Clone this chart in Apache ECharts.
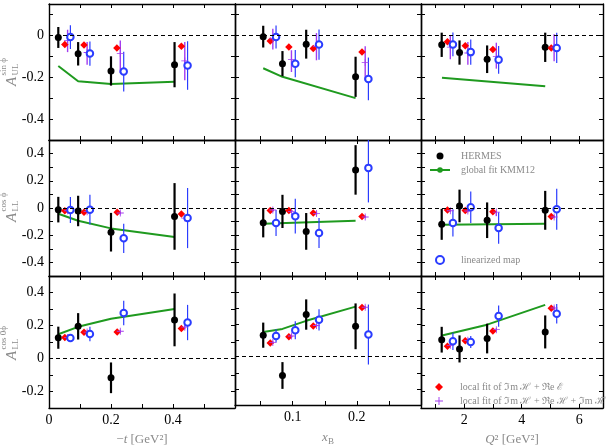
<!DOCTYPE html>
<html>
<head>
<meta charset="utf-8">
<script src="https://cdn.jsdelivr.net/npm/echarts@6/dist/echarts.min.js"></script>
<style>
html,body{margin:0;padding:0;background:#fff;}
#main{width:610px;height:447px;}
</style>
</head>
<body>
<div id="main"></div>
<script>
// 坐标轴范围与刻度
var xMin = [0, 0.01, 0.5];
var xMax = [0.6, 0.3, 6.83];
var xTicks = [[0.1, 0.2, 0.3, 0.4, 0.5], [0.05, 0.1, 0.15, 0.2, 0.25], [1, 2, 3, 4, 5, 6]];
var xLabels = [[0, 0.2, 0.4], [0.1, 0.2], [2, 4, 6]];
var yMin = [-0.5, -0.5, -0.3];
var yMax = [0.15, 0.5, 0.5];
var yTicks = [[-0.4, -0.3, -0.2, -0.1, 0, 0.1],
              [-0.4, -0.3, -0.2, -0.1, 0, 0.1, 0.2, 0.3, 0.4],
              [-0.2, -0.1, 0, 0.1, 0.2, 0.3, 0.4]];
var yLabels = [[0, -0.2, -0.4], [0.4, 0.2, 0, -0.2, -0.4], [0.4, 0.2, 0, -0.2]];

// HERMES [x, y, err]
var hermes11 = [[0.030, -0.01, 0.05], [0.094, -0.088, 0.056], [0.200, -0.17, 0.07], [0.405, -0.14, 0.108]];
var hermes12 = [[0.054, -0.006, 0.052], [0.084, -0.135, 0.06], [0.121, -0.042, 0.069], [0.198, -0.198, 0.096]];
var hermes13 = [[1.22, -0.045, 0.058], [1.84, -0.082, 0.058], [2.8, -0.114, 0.066], [4.82, -0.057, 0.07]];
var hermes21 = [[0.030, -0.012, 0.094], [0.094, -0.022, 0.112], [0.200, -0.178, 0.142], [0.405, -0.062, 0.245]];
var hermes22 = [[0.054, -0.108, 0.108], [0.084, -0.025, 0.122], [0.121, -0.172, 0.135], [0.198, 0.28, 0.182]];
var hermes23 = [[1.22, -0.12, 0.114], [1.84, 0.015, 0.12], [2.8, -0.09, 0.131], [4.82, -0.017, 0.143]];
var hermes31 = [[0.030, 0.126, 0.067], [0.094, 0.195, 0.08], [0.200, -0.117, 0.093], [0.405, 0.234, 0.16]];
var hermes32 = [[0.054, 0.133, 0.078], [0.084, -0.117, 0.083], [0.121, 0.261, 0.094], [0.198, 0.188, 0.142]];
var hermes33 = [[1.22, 0.114, 0.078], [1.84, 0.058, 0.082], [2.8, 0.121, 0.09], [4.82, 0.161, 0.1]];

// local fit ImH + ReE [x, y]
var red11 = [[0.051, -0.044], [0.113, -0.046], [0.219, -0.06], [0.427, -0.052]];
var red12 = [[0.065, -0.027], [0.094, -0.056], [0.132, -0.063], [0.208, -0.079]];
var red13 = [[1.42, -0.03], [2.04, -0.049], [3.0, -0.067], [5.03, -0.06]];
var red21 = [[0.051, -0.02], [0.113, -0.032], [0.22, -0.032], [0.427, -0.044]];
var red22 = [[0.065, -0.018], [0.094, -0.018], [0.132, -0.037], [0.208, -0.062]];
var red23 = [[1.42, -0.015], [2.04, -0.018], [3.0, -0.027], [5.03, -0.062]];
var red31 = [[0.051, 0.128], [0.113, 0.159], [0.22, 0.161], [0.427, 0.182]];
var red32 = [[0.065, 0.084], [0.094, 0.124], [0.132, 0.19], [0.208, 0.304]];
var red33 = [[1.42, 0.075], [2.04, 0.108], [3.0, 0.167], [5.03, 0.304]];

// local fit ImH + ReH + ImHt [x, y, errDown, errUp]
var purple11 = [[0.060, -0.025, 0.055, 0.052], [0.123, -0.082, 0.058, 0.05], [0.230, -0.087, 0.093, 0.063], [0.438, -0.122, 0.092, 0.09]];
var purple12 = [[0.069, -0.016, 0.052, 0.048], [0.098, -0.116, 0.059, 0.045], [0.137, -0.052, 0.067, 0.063], [0.213, -0.13, 0.084, 0.078]];
var purple13 = [[1.52, -0.056, 0.058, 0.056], [2.13, -0.084, 0.056, 0.052], [3.12, -0.1, 0.059, 0.065], [5.13, -0.056, 0.068, 0.061]];
var purple21 = [[0.060, -0.02, 0.01, 0.01], [0.123, -0.027, 0.01, 0.01], [0.23, -0.037, 0.01, 0.01], [0.438, -0.074, 0.012, 0.012]];
var purple22 = [[0.069, -0.015, 0.01, 0.01], [0.098, -0.025, 0.012, 0.012], [0.137, -0.04, 0.015, 0.015], [0.213, -0.066, 0.01, 0.01]];
var purple23 = [[1.52, -0.02, 0.01, 0.01], [2.13, -0.022, 0.01, 0.01], [3.12, -0.03, 0.03, 0.01], [5.13, -0.066, 0.01, 0.01]];
var purple31 = [[0.060, 0.128, 0.01, 0.01], [0.123, 0.16, 0.01, 0.01], [0.23, 0.165, 0.01, 0.01], [0.438, 0.19, 0.012, 0.012]];
var purple32 = [[0.069, 0.088, 0.01, 0.01], [0.098, 0.128, 0.01, 0.01], [0.137, 0.193, 0.01, 0.01], [0.213, 0.306, 0.01, 0.01]];
var purple33 = [[1.52, 0.08, 0.01, 0.01], [2.13, 0.11, 0.01, 0.01], [3.12, 0.175, 0.01, 0.01], [5.13, 0.306, 0.01, 0.01]];

// linearized map [x, y, err]
var blue11 = [[0.069, -0.008, 0.057], [0.132, -0.087, 0.058], [0.241, -0.173, 0.095], [0.447, -0.144, 0.116]];
var blue12 = [[0.074, -0.008, 0.055], [0.104, -0.135, 0.065], [0.141, -0.044, 0.072], [0.218, -0.208, 0.102]];
var blue13 = [[1.61, -0.043, 0.057], [2.23, -0.08, 0.06], [3.2, -0.117, 0.066], [5.22, -0.06, 0.072]];
var blue21 = [[0.069, -0.015, 0.096], [0.132, -0.012, 0.11], [0.241, -0.223, 0.107], [0.447, -0.074, 0.221]];
var blue22 = [[0.074, -0.11, 0.096], [0.104, -0.06, 0.128], [0.141, -0.184, 0.11], [0.218, 0.295, 0.254]];
var blue23 = [[1.61, -0.11, 0.1], [2.23, 0.006, 0.116], [3.2, -0.147, 0.116], [5.22, -0.009, 0.151]];
var blue31 = [[0.069, 0.124, 0.022], [0.132, 0.149, 0.044], [0.241, 0.276, 0.074], [0.447, 0.218, 0.107]];
var blue32 = [[0.074, 0.128, 0.041], [0.104, 0.163, 0.056], [0.141, 0.228, 0.066], [0.218, 0.137, 0.186]];
var blue33 = [[1.61, 0.104, 0.052], [2.23, 0.1, 0.037], [3.2, 0.257, 0.064], [5.22, 0.271, 0.059]];

// global fit KMM12
var green11 = [[0.030, -0.146], [0.094, -0.219], [0.200, -0.232], [0.405, -0.222]];
var green12 = [[0.054, -0.157], [0.084, -0.198], [0.198, -0.3]];
var green13 = [[1.23, -0.203], [4.82, -0.243]];
var green21 = [[0.030, -0.042], [0.094, -0.094], [0.2, -0.15], [0.405, -0.214]];
var green22 = [[0.054, -0.116], [0.198, -0.094]];
var green23 = [[1.23, -0.123], [4.82, -0.116]];
var green31 = [[0.030, 0.147], [0.094, 0.192], [0.2, 0.241], [0.405, 0.3]];
var green32 = [[0.054, 0.153], [0.084, 0.172], [0.121, 0.222], [0.198, 0.31]];
var green33 = [[1.23, 0.139], [2.8, 0.205], [4.82, 0.325]];

var panels = [
    [hermes11, red11, purple11, blue11, green11],
    [hermes12, red12, purple12, blue12, green12],
    [hermes13, red13, purple13, blue13, green13],
    [hermes21, red21, purple21, blue21, green21],
    [hermes22, red22, purple22, blue22, green22],
    [hermes23, red23, purple23, blue23, green23],
    [hermes31, red31, purple31, blue31, green31],
    [hermes32, red32, purple32, blue32, green32],
    [hermes33, red33, purple33, blue33, green33]
];

var NAME_H = 'HERMES';
var NAME_G = 'global fit KMM12';
var NAME_B = 'linearized map';
var NAME_R = 'local fit of ℑm ℋ + ℜe ℰ';
var NAME_P = 'local fit of ℑm ℋ + ℜe ℋ + ℑm ℋ̃';

var colLeft = [49, 235, 421];
var colWidth = [186, 186, 182];
var rowTop = [4, 140, 276];
var rowHeight = [136, 136, 137];

var FONT = 'Liberation Serif';
var GREY = '#8a8a8a';
var PLUS = 'path://M4.4,0 L5.6,0 L5.6,4.4 L10,4.4 L10,5.6 L5.6,5.6 L5.6,10 L4.4,10 L4.4,5.6 L0,5.6 L0,4.4 L4.4,4.4 Z';

function fmt(v) {
    return String(+v.toFixed(2));
}

function errRender(color, width) {
    return function (params, api) {
        var x = api.value(0), y = api.value(1);
        var p1 = api.coord([x, y - api.value(2)]);
        var p2 = api.coord([x, y + api.value(3)]);
        return {
            type: 'line',
            shape: {x1: p1[0], y1: p1[1], x2: p2[0], y2: p2[1]},
            style: {stroke: color, lineWidth: width}
        };
    };
}

function symErr(list) {
    return list.map(function (d) { return [d[0], d[1], d[2], d[2]]; });
}

var grids = [], xAxes = [], yAxes = [], series = [];

for (var r = 0; r < 3; r++) {
    for (var c = 0; c < 3; c++) {
        var i = r * 3 + c;
        grids.push({left: colLeft[c], top: rowTop[r], width: colWidth[c], height: rowHeight[r], containLabel: false});

        var lineCfg = {show: true, onZero: false, lineStyle: {color: '#000', width: 1.4}};
        var xNames = ['{o|−}{i|t}{o| [GeV²]}', '{i|x}{b|B}', '{i|Q}{o|² [GeV²]}'];
        xAxes.push({
            type: 'value', gridIndex: i, position: 'bottom', min: xMin[c], max: xMax[c],
            axisLine: lineCfg,
            axisTick: {show: true, inside: true, length: 4, customValues: xTicks[c], lineStyle: {color: '#000', width: 1}},
            axisLabel: {show: r === 2, customValues: xLabels[c], formatter: fmt, fontFamily: FONT, fontSize: 14, color: '#000', margin: 5},
            splitLine: {show: false},
            name: r === 2 ? xNames[c] : '',
            nameLocation: 'middle',
            nameGap: 25,
            nameTextStyle: {
                rich: {
                    o: {fontFamily: FONT, fontSize: 13, color: GREY},
                    i: {fontFamily: FONT, fontSize: 13, fontStyle: 'italic', color: GREY},
                    b: {fontFamily: FONT, fontSize: 9, color: GREY, padding: [7, 0, 0, 0]}
                }
            }
        });
        xAxes.push({
            type: 'value', gridIndex: i, position: 'top', min: xMin[c], max: xMax[c],
            axisLine: lineCfg,
            axisTick: {show: true, inside: true, length: 4, customValues: xTicks[c], lineStyle: {color: '#000', width: 1}},
            axisLabel: {show: false},
            splitLine: {show: false}
        });
        yAxes.push({
            type: 'value', gridIndex: i, position: 'left', min: yMin[r], max: yMax[r],
            axisLine: lineCfg,
            axisTick: {show: true, inside: true, length: 4, customValues: yTicks[r], lineStyle: {color: '#000', width: 1}},
            axisLabel: {show: c === 0, customValues: yLabels[r], formatter: fmt, fontFamily: FONT, fontSize: 14, color: '#000', margin: 5},
            splitLine: {show: false}
        });
        yAxes.push({
            type: 'value', gridIndex: i, position: 'right', min: yMin[r], max: yMax[r],
            axisLine: lineCfg,
            axisTick: {show: true, inside: true, length: 4, customValues: yTicks[r], lineStyle: {color: '#000', width: 1}},
            axisLabel: {show: false},
            splitLine: {show: false}
        });

        var p = panels[i];
        var ax = {xAxisIndex: 2 * i, yAxisIndex: 2 * i};

        // global fit + 0 dashed line
        series.push(Object.assign({
            name: NAME_G, type: 'line', data: p[4], showSymbol: false, symbol: 'none',
            lineStyle: {color: '#1f9a1f', width: 2}, itemStyle: {color: '#1f9a1f'},
            z: 2,
            markLine: {
                silent: true, symbol: 'none', label: {show: false},
                lineStyle: {color: '#000', width: 1, type: [4, 3]},
                data: [{yAxis: 0}]
            }
        }, ax));
        // error bars
        series.push(Object.assign({name: 'hermesErr', type: 'custom', clip: true, renderItem: errRender('#000', 2.2), data: symErr(p[0]), z: 3}, ax));
        series.push(Object.assign({name: 'purpleErr', type: 'custom', clip: true, renderItem: errRender('#a33cf0', 1.4), data: p[2], z: 3}, ax));
        series.push(Object.assign({name: 'blueErr', type: 'custom', clip: true, renderItem: errRender('#2a3cff', 1.2), data: symErr(p[3]), z: 3}, ax));
        // markers
        series.push(Object.assign({name: NAME_H, type: 'scatter', symbol: 'circle', symbolSize: 7, itemStyle: {color: '#000', opacity: 1}, data: p[0].map(function (d) { return [d[0], d[1]]; }), z: 4}, ax));
        series.push(Object.assign({name: NAME_R, type: 'scatter', symbol: 'diamond', symbolSize: 7.5, itemStyle: {color: '#ff0000', opacity: 1}, data: p[1], z: 4}, ax));
        series.push(Object.assign({name: NAME_P, type: 'scatter', symbol: PLUS, symbolSize: 7, itemStyle: {color: '#a33cf0', opacity: 1}, data: p[2].map(function (d) { return [d[0], d[1]]; }), z: 4}, ax));
        series.push(Object.assign({name: NAME_B, type: 'scatter', symbol: 'emptyCircle', symbolSize: 6.5, itemStyle: {color: '#2a3cff', borderColor: '#2a3cff', borderWidth: 1.1, opacity: 1}, data: p[3].map(function (d) { return [d[0], d[1]]; }), z: 4}, ax));
    }
}

function makeLegend(left, top, w, h, gap, pad, names) {
    return {
        show: true, orient: 'vertical', left: left, top: top, itemWidth: w, itemHeight: h, itemGap: gap,
        selectedMode: false, padding: 0,
        textStyle: {fontFamily: FONT, fontSize: 10, color: GREY, padding: [0, 0, 0, pad]},
        data: names
    };
}

// y 轴标题 (旋转)
var yNames = [['sin ϕ', 'UL'], ['cos ϕ', 'LL'], ['cos 0ϕ', 'LL']];
var yNameBottom = [86, 222, 360];
var graphics = yNames.map(function (n, k) {
    return {
        type: 'group', x: 12, y: yNameBottom[k], rotation: Math.PI / 2,
        children: [
            {type: 'text', x: 0, y: 0, style: {text: 'A', font: 'italic 15px ' + FONT, fill: GREY, verticalAlign: 'middle'}},
            {type: 'text', x: 10.5, y: -8, style: {text: n[0], font: '9px ' + FONT, fill: GREY, verticalAlign: 'middle'}},
            {type: 'text', x: 10.5, y: 4, style: {text: n[1], font: '9px ' + FONT, fill: GREY, verticalAlign: 'middle'}}
        ]
    };
});

var myChart = echarts.init(document.getElementById('main'));
var option = {
    animation: false,
    backgroundColor: '#fff',
    grid: grids,
    xAxis: xAxes,
    yAxis: yAxes,
    legend: [
        makeLegend(429, 151, 20, 7, 4, 6, [NAME_H, NAME_G]),
        makeLegend(435, 255, 8, 8, 2, 12, [NAME_B]),
        makeLegend(435, 382, 8, 8, 4, 12, [NAME_R, NAME_P])
    ],
    graphic: graphics,
    series: series
};
myChart.setOption(option);
</script>
</body>
</html>
